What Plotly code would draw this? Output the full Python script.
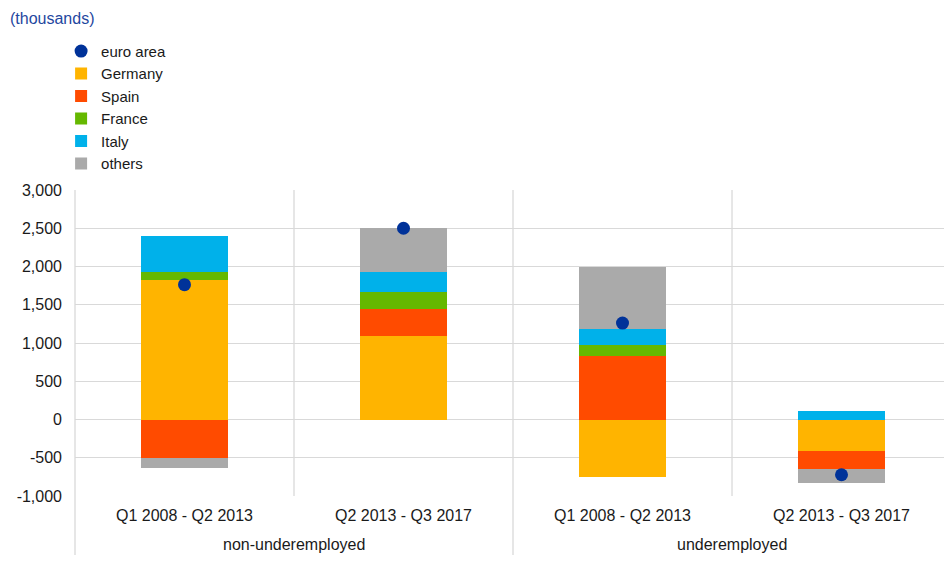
import plotly.graph_objects as go

# Contributions to the change in employment (thousands)
periods = ["Q1 2008 - Q2 2013", "Q2 2013 - Q3 2017",
           "Q1 2008 - Q2 2013", "Q2 2013 - Q3 2017"]
groups = ["non-underemployed", "underemployed"]

germany = [1824, 1088, -748, -412]
spain = [-508, 352, 830, -235]
france = [105, 231, 140, 0]
italy = [471, 261, 213, 111]
others = [-131, 575, 814, -187]
euro_area = [1762, 2500, 1261, -722]

y_tickvals = [-1000, -500, 0, 500, 1000, 1500, 2000, 2500, 3000]
y_ticktext = ["-1,000", "-500", "0", "500", "1,000", "1,500", "2,000", "2,500", "3,000"]

colors = {
    "euro area": "#003299",
    "Germany": "#FFB400",
    "Spain": "#FF4B00",
    "France": "#65B800",
    "Italy": "#00B1EA",
    "others": "#AAAAAA",
}

x = list(range(len(periods)))
font_family = "Liberation Sans, Arial, sans-serif"
font_size = 16
legend_font_size = 15
text_color = "#1A1A1A"
grid_color = "#D9D9D9"

fig = go.Figure()

fig.add_trace(go.Scatter(
    x=x, y=euro_area, name="euro area", mode="markers",
    marker=dict(color=colors["euro area"], size=13),
))

for name, vals in [("Germany", germany), ("Spain", spain), ("France", france),
                   ("Italy", italy), ("others", others)]:
    fig.add_trace(go.Bar(
        x=x, y=vals, name=name, width=0.397,
        marker=dict(color=colors[name], line=dict(width=0)),
    ))

# separators: between periods inside a group (plot area only) and
# between groups (running down through the label area)
shapes = []
for i in range(len(periods) - 1):
    boundary = i + 0.5
    is_group_edge = (i + 1) % 2 == 0
    shapes.append(dict(
        type="line", xref="x", yref="paper",
        x0=boundary, x1=boundary, y0=-0.193 if is_group_edge else 0, y1=1,
        line=dict(color=grid_color, width=1.3),
    ))
shapes.append(dict(
    type="line", xref="paper", yref="paper",
    x0=0, x1=0, y0=-0.193, y1=1,
    line=dict(color=grid_color, width=1.3),
))

annotations = [
    dict(text="(thousands)", xref="paper", yref="paper", x=-0.077, y=1.56,
         xanchor="left", yanchor="middle", showarrow=False,
         font=dict(size=font_size, color="#1F47A0", family=font_family)),
]
for g, name in enumerate(groups):
    annotations.append(dict(
        text=name, xref="x", yref="paper", x=2 * g + 0.5, y=-0.16,
        xanchor="center", yanchor="middle", showarrow=False,
        font=dict(size=font_size, color=text_color, family=font_family),
    ))

fig.update_layout(
    width=944, height=564,
    margin=dict(l=75, r=0, t=190, b=68),
    paper_bgcolor="white", plot_bgcolor="white",
    barmode="relative", bargap=0,
    font=dict(family=font_family, size=font_size, color=text_color),
    showlegend=True,
    legend=dict(
        x=-0.016, y=1.507, xanchor="left", yanchor="top",
        traceorder="normal", font=dict(size=legend_font_size, color=text_color),
        bgcolor="rgba(0,0,0,0)", itemwidth=30,
    ),
    shapes=shapes,
    annotations=annotations,
)

fig.update_xaxes(
    range=[-0.5, 3.468], tickvals=x, ticktext=periods,
    showgrid=False, zeroline=False, showline=False, ticks="",
    tickfont=dict(size=font_size, color=text_color), ticklabelstandoff=8,
    fixedrange=True,
)
fig.update_yaxes(
    range=[-1000, 3000], tickvals=y_tickvals, ticktext=y_ticktext,
    showgrid=True, gridcolor=grid_color, gridwidth=1.3,
    zeroline=True, zerolinecolor=grid_color, zerolinewidth=1.3,
    showline=False, ticks="", tickfont=dict(size=font_size, color=text_color),
    ticklabelstandoff=12, fixedrange=True,
)

fig.write_html("out.html")
